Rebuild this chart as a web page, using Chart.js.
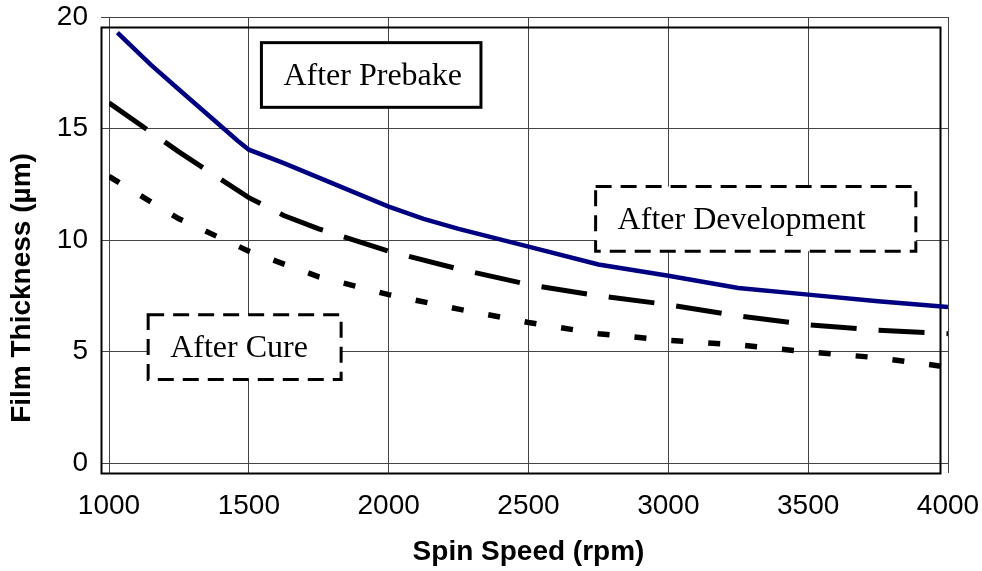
<!DOCTYPE html>
<html>
<head>
<meta charset="utf-8">
<script src="https://cdn.jsdelivr.net/npm/chart.js"></script>
<style>
  html, body { margin: 0; padding: 0; background: #fff; }
  canvas { display: block; }
</style>
</head>
<body>
<canvas id="graficoEspessura" width="982" height="571"></canvas>
<script>
// espessura do filme (um) x rotacao (rpm)
var rpmPrebake = [1030, 1150, 1250, 1460, 1500, 1625, 1750, 2000, 2125, 2250, 2500, 2750, 3000, 3250, 3500, 3750, 4000];
var filmePrebake = [19.3, 17.85, 16.75, 14.45, 14.05, 13.45, 12.8, 11.5, 10.95, 10.5, 9.7, 8.9, 8.4, 7.85, 7.55, 7.25, 7.0];

var rpmDev = [1000, 1250, 1500, 1625, 1750, 2000, 2250, 2500, 2750, 3000, 3250, 3500, 3750, 4000];
var filmeDev = [16.15, 13.95, 11.9, 11.1, 10.5, 9.5, 8.7, 8.0, 7.5, 7.1, 6.6, 6.2, 5.95, 5.8];

var rpmCure = [1000, 1250, 1500, 1750, 2000, 2250, 2500, 2750, 3000, 3250, 3500, 3750, 4000];
var filmeCure = [12.85, 10.95, 9.5, 8.35, 7.55, 6.9, 6.3, 5.8, 5.5, 5.3, 4.98, 4.72, 4.3];

var ticksX = [1000, 1500, 2000, 2500, 3000, 3500, 4000];
var ticksY = [0, 5, 10, 15, 20];

// caixas de texto, em unidades do grafico
var rotulos = [
    { texto: 'After Prebake', x0: 1545, x1: 2330, y0: 18.85, y1: 15.95, tracejado: false },
    { texto: 'After Development', x0: 2740, x1: 3885, y0: 12.4, y1: 9.5, tracejado: true },
    { texto: 'After Cure', x0: 1140, x1: 1830, y0: 6.65, y1: 3.75, tracejado: true }
];

function pontos(xs, ys) {
    return xs.map(function (x, i) { return { x: x, y: ys[i] }; });
}

var corGrade = '#444';
var fonteEixo = "'Liberation Sans', Arial, sans-serif";

// tira o espaco extra que o chart.js reserva para os rotulos
function semPadding(s) {
    s.paddingTop = 0;
    s.paddingBottom = 0;
    s.paddingLeft = 0;
    s.paddingRight = 0;
}

var molduraPlugin = {
    id: 'moldura',
    beforeDatasetsDraw: function (chart) {
        var ctx = chart.ctx, a = chart.chartArea;
        ctx.save();
        ctx.strokeStyle = '#000';
        ctx.lineWidth = 2;
        ctx.strokeRect(a.left - 7.5, a.top + 10.5, a.right - a.left, a.bottom - a.top);
        ctx.restore();
    },
    afterDatasetsDraw: function (chart) {
        var ctx = chart.ctx, sx = chart.scales.x, sy = chart.scales.y;
        rotulos.forEach(function (r) {
            var l = sx.getPixelForValue(r.x0), rr = sx.getPixelForValue(r.x1);
            var t = sy.getPixelForValue(r.y0), b = sy.getPixelForValue(r.y1);
            ctx.save();
            ctx.fillStyle = '#fff';
            ctx.fillRect(l, t, rr - l, b - t);
            ctx.strokeStyle = '#000';
            ctx.lineWidth = 3;
            ctx.setLineDash(r.tracejado ? [16, 9] : []);
            ctx.strokeRect(l, t, rr - l, b - t);
            ctx.setLineDash([]);
            ctx.fillStyle = '#000';
            ctx.font = "32px 'Liberation Serif', 'Times New Roman', serif";
            ctx.textAlign = 'left';
            ctx.textBaseline = 'alphabetic';
            ctx.fillText(r.texto, l + 22, (t + b) / 2 + 10);
            ctx.restore();
        });

        // titulo do eixo y
        ctx.save();
        ctx.translate(22, 288);
        ctx.rotate(-Math.PI / 2);
        ctx.fillStyle = '#000';
        ctx.font = 'bold 28px ' + fonteEixo;
        ctx.textAlign = 'center';
        ctx.textBaseline = 'middle';
        ctx.fillText('Film Thickness (\u00b5m)', 0, 0);
        ctx.restore();
    }
};

Chart.defaults.color = '#000';
Chart.defaults.font.family = fonteEixo;

new Chart(document.getElementById('graficoEspessura'), {
    type: 'line',
    data: {
        datasets: [{
            label: 'After Prebake',
            data: pontos(rpmPrebake, filmePrebake),
            borderColor: '#000080',
            borderWidth: 4.5,
            pointRadius: 0,
            tension: 0
        }, {
            label: 'After Development',
            data: pontos(rpmDev, filmeDev),
            borderColor: '#000',
            borderWidth: 5,
            borderDash: [46, 22],
            pointRadius: 0,
            tension: 0
        }, {
            label: 'After Cure',
            data: pontos(rpmCure, filmeCure),
            borderColor: '#000',
            borderWidth: 5.5,
            borderDash: [12, 25],
            pointRadius: 0,
            tension: 0
        }]
    },
    options: {
        responsive: false,
        animation: false,
        layout: { padding: { top: 17, right: 34, left: 0, bottom: 0 } },
        plugins: {
            legend: { display: false },
            tooltip: { enabled: false }
        },
        scales: {
            x: {
                type: 'linear',
                min: 1000,
                max: 4000,
                afterBuildTicks: function (s) { s.ticks = ticksX.map(function (v) { return { value: v }; }); },
                afterFit: function (s) { s.height = 108; semPadding(s); },
                grid: { color: corGrade, tickColor: corGrade, tickLength: 10, lineWidth: 1 },
                border: { display: false },
                ticks: {
                    font: { size: 28 },
                    padding: 16,
                    maxRotation: 0,
                    callback: function (v) { return String(v); }
                },
                title: {
                    display: true,
                    text: 'Spin Speed (rpm)',
                    font: { size: 28, weight: 'bold' },
                    padding: { top: 0, bottom: 2 }
                }
            },
            y: {
                min: 0,
                max: 20,
                afterBuildTicks: function (s) { s.ticks = ticksY.map(function (v) { return { value: v }; }); },
                afterFit: function (s) { s.width = 109; semPadding(s); },
                grid: { color: corGrade, tickColor: corGrade, tickLength: 8, lineWidth: 1 },
                border: { display: false },
                ticks: {
                    font: { size: 28 },
                    padding: 13,
                    callback: function (v) { return String(v); }
                }
            }
        }
    },
    plugins: [molduraPlugin]
});
</script>
</body>
</html>
